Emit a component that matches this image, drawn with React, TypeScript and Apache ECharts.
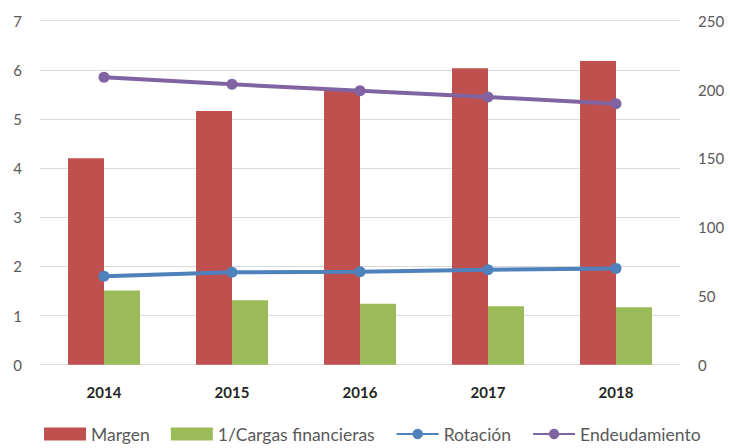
import React, { useEffect, useRef } from "react";
import * as echarts from "echarts";

const years = ["2014", "2015", "2016", "2017", "2018"];
const margen = [4.2, 5.16, 5.58, 6.03, 6.18];
const cargas = [1.51, 1.31, 1.24, 1.19, 1.17];
const rotacion = [1.8, 1.88, 1.89, 1.93, 1.96];
const endeudamiento = [208.9, 203.8, 199.1, 194.5, 189.7];

export default function App() {
  const ref = useRef<HTMLDivElement>(null);
  useEffect(() => {
    const chart = echarts.init(ref.current!, null, { renderer: "svg" });
    const font = "Lato, 'Open Sans', sans-serif";
    chart.setOption({
      animation: false,
      textStyle: { fontFamily: font },
      grid: { left: 40, right: 50, top: 20.7, bottom: 83.3 },
      legend: {
        bottom: 0,
        left: 39,
        itemWidth: 42,
        itemHeight: 13,
        itemGap: 21,
        textStyle: { fontSize: 17.5, color: "#595959", fontFamily: font },
        data: [
          { name: "Margen", icon: "rect" },
          { name: "1/Cargas financieras", icon: "rect" },
          { name: "Rotación" },
          { name: "Endeudamiento" },
        ],
      },
      xAxis: {
        type: "category",
        data: years,
        axisTick: { show: false },
        axisLine: { lineStyle: { color: "#d9d9d9", width: 1 } },
        axisLabel: { color: "#262626", fontWeight: "bold", fontSize: 15, margin: 20, fontFamily: font },
      },
      yAxis: [
        {
          type: "value",
          min: 0,
          max: 7,
          interval: 1,
          axisLine: { show: false },
          axisTick: { show: false },
          axisLabel: { color: "#595959", fontSize: 15, margin: 18, fontFamily: font },
          splitLine: { lineStyle: { color: "#d9d9d9", width: 1 } },
        },
        {
          type: "value",
          min: 0,
          max: 250,
          interval: 50,
          position: "right",
          axisLine: { show: false },
          axisTick: { show: false },
          axisLabel: { color: "#595959", fontSize: 15, margin: 18, fontFamily: font },
          splitLine: { show: false },
        },
      ],
      series: [
        {
          name: "Margen",
          type: "bar",
          data: margen,
          itemStyle: { color: "#C0504D" },
          barGap: "0%",
          barCategoryGap: "43.75%",
        },
        {
          name: "1/Cargas financieras",
          type: "bar",
          data: cargas,
          itemStyle: { color: "#9BBB59" },
        },
        {
          name: "Rotación",
          type: "line",
          data: rotacion,
          symbol: "circle",
          symbolSize: 11,
          lineStyle: { color: "#4F81BD", width: 4 },
          itemStyle: { color: "#4F81BD" },
        },
        {
          name: "Endeudamiento",
          type: "line",
          yAxisIndex: 1,
          data: endeudamiento,
          symbol: "circle",
          symbolSize: 11,
          lineStyle: { color: "#8064A2", width: 4 },
          itemStyle: { color: "#8064A2" },
        },
      ],
    });
    return () => chart.dispose();
  }, []);
  return <div ref={ref} style={{ width: 730, height: 448, position: "absolute", left: 0, top: 0 }} />;
}
